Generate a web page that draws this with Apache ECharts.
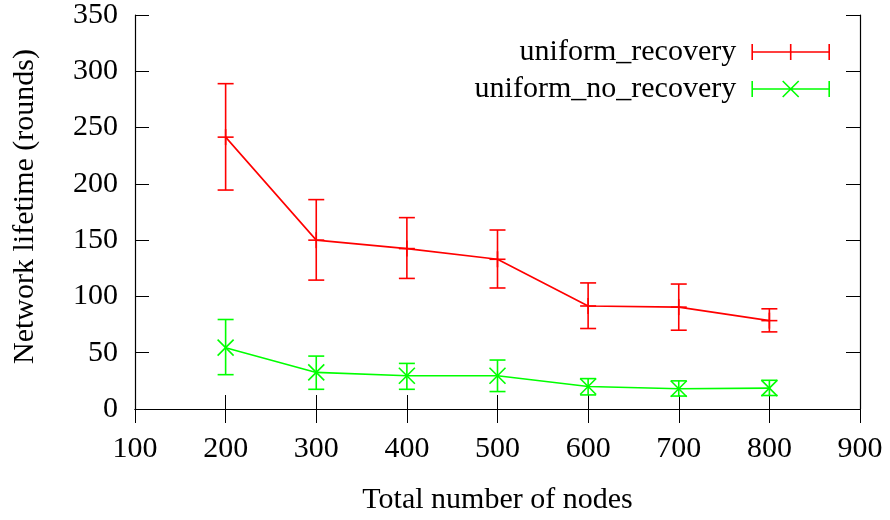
<!DOCTYPE html>
<html>
<head>
<meta charset="utf-8">
<script src="https://cdn.jsdelivr.net/npm/echarts@6/dist/echarts.min.js"></script>
<style>
  html, body { margin: 0; padding: 0; background: #fff; }
  #chart { width: 890px; height: 520px; }
</style>
</head>
<body>
<div id="chart"></div>
<script>
// Network lifetime vs. number of nodes, mean with min/max error bars
const nodes = [200, 300, 400, 500, 600, 700, 800];

const recoveryMean = [241.5, 150, 142.5, 133, 91.5, 90.5, 78.5];
const recoveryLow  = [194.5, 114.5, 116, 107.5, 71.5, 70, 68.5];
const recoveryHigh = [289, 186, 170, 159, 112, 111, 89];

const noRecoveryMean = [54.5, 32.5, 29.5, 29.5, 20, 18, 18.5];
const noRecoveryLow  = [30.5, 17.5, 17.5, 15.5, 12.5, 11.5, 12];
const noRecoveryHigh = [79.5, 47, 40.5, 43.5, 27, 25, 25.5];

const xTicks = [100, 200, 300, 400, 500, 600, 700, 800, 900];
const yTicks = [0, 50, 100, 150, 200, 250, 300, 350];

const seriesNames = ['uniform_recovery', 'uniform_no_recovery'];
const RED = '#ff0000';
const GREEN = '#00ff00';
const FONT = 'Liberation Serif';
const FONT_SIZE = 30;

const chart = echarts.init(document.getElementById('chart'), null, { renderer: 'canvas' });

function rows(mean, low, high) {
  return nodes.map((x, i) => [x, mean[i], low[i], high[i]]);
}

// draws one error bar with caps and the point marker ('plus' or 'cross')
function errorBarRenderer(color, marker) {
  return function (params, api) {
    const c = api.coord([api.value(0), api.value(1)]);
    const lo = api.coord([api.value(0), api.value(2)]);
    const hi = api.coord([api.value(0), api.value(3)]);
    const h = 8;
    const style = { stroke: color, lineWidth: 1.6, fill: null };
    const seg = (x1, y1, x2, y2) => ({ type: 'line', shape: { x1, y1, x2, y2 }, style });
    const children = [
      seg(c[0], hi[1], c[0], lo[1]),
      seg(c[0] - h, hi[1], c[0] + h, hi[1]),
      seg(c[0] - h, lo[1], c[0] + h, lo[1])
    ];
    if (marker === 'plus') {
      children.push(seg(c[0] - h, c[1], c[0] + h, c[1]));
      children.push(seg(c[0], c[1] - h, c[0], c[1] + h));
    } else {
      children.push(seg(c[0] - h, c[1] - h, c[0] + h, c[1] + h));
      children.push(seg(c[0] - h, c[1] + h, c[0] + h, c[1] - h));
    }
    return { type: 'group', children };
  };
}

const iconPlus = 'path://M0,0L0,16M0,8L77,8M77,0L77,16M38.5,0L38.5,16';
const iconCross = 'path://M0,0L0,16M0,8L77,8M77,0L77,16M30.5,0L46.5,16M30.5,16L46.5,0';

function legendFor(name, icon, color, top) {
  return {
    data: [{ name, icon, itemStyle: { color: 'rgba(0,0,0,0)', borderColor: color, borderWidth: 1.6 } }],
    right: 60,
    top,
    padding: 0,
    align: 'right',
    itemWidth: 77,
    itemHeight: 16,
    selectedMode: false,
    textStyle: { fontFamily: FONT, fontSize: FONT_SIZE, color: '#000', padding: [0, 11, 0, 0] }
  };
}

const tickStyle = { show: true, inside: true, length: 14, lineStyle: { color: '#000', width: 1 } };
const lineStyleAxis = { show: true, lineStyle: { color: '#000', width: 1.2 } };
const labelStyle = { fontFamily: FONT, fontSize: FONT_SIZE, color: '#000' };

const option = {
  animation: false,
  backgroundColor: '#fff',
  grid: { left: 135, right: 30, top: 13, bottom: 110, containLabel: false },
  legend: [
    legendFor(seriesNames[0], iconPlus, RED, 37),
    legendFor(seriesNames[1], iconCross, GREEN, 74)
  ],
  xAxis: [
    {
      type: 'value', position: 'bottom',
      min: xTicks[0], max: xTicks[xTicks.length - 1], interval: 100,
      axisLine: lineStyleAxis, axisTick: tickStyle, splitLine: { show: false },
      axisLabel: Object.assign({ margin: 25 }, labelStyle),
      name: 'Total number of nodes', nameLocation: 'middle', nameGap: 76,
      nameTextStyle: labelStyle
    },
    {
      type: 'value', position: 'top',
      min: xTicks[0], max: xTicks[xTicks.length - 1], interval: 100,
      axisLine: lineStyleAxis, axisTick: tickStyle, splitLine: { show: false },
      axisLabel: { show: false }
    }
  ],
  yAxis: [
    {
      type: 'value', position: 'left',
      min: yTicks[0], max: yTicks[yTicks.length - 1], interval: 50,
      axisLine: lineStyleAxis, axisTick: tickStyle, splitLine: { show: false },
      axisLabel: Object.assign({ margin: 17 }, labelStyle),
      name: 'Network lifetime (rounds)', nameLocation: 'middle', nameGap: 95,
      nameTextStyle: Object.assign({ padding: [0, 0, 0, 11] }, labelStyle)
    },
    {
      type: 'value', position: 'right',
      min: yTicks[0], max: yTicks[yTicks.length - 1], interval: 50,
      axisLine: lineStyleAxis, axisTick: tickStyle, splitLine: { show: false },
      axisLabel: { show: false }
    }
  ],
  series: [
    {
      name: seriesNames[0], type: 'line',
      data: nodes.map((x, i) => [x, recoveryMean[i]]),
      symbol: 'none', color: RED,
      lineStyle: { color: RED, width: 1.6 }
    },
    {
      name: seriesNames[0], type: 'custom',
      data: rows(recoveryMean, recoveryLow, recoveryHigh),
      color: RED,
      renderItem: errorBarRenderer(RED, 'plus')
    },
    {
      name: seriesNames[1], type: 'line',
      data: nodes.map((x, i) => [x, noRecoveryMean[i]]),
      symbol: 'none', color: GREEN,
      lineStyle: { color: GREEN, width: 1.6 }
    },
    {
      name: seriesNames[1], type: 'custom',
      data: rows(noRecoveryMean, noRecoveryLow, noRecoveryHigh),
      color: GREEN,
      renderItem: errorBarRenderer(GREEN, 'cross')
    }
  ]
};

chart.setOption(option);
</script>
</body>
</html>
